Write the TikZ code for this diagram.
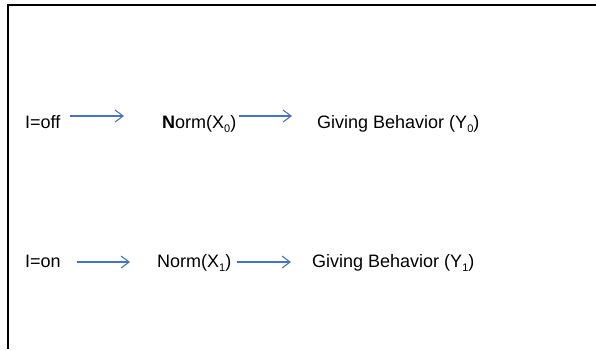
\documentclass[tikz,border=0pt]{standalone}
\usepackage{fontspec}
\setmainfont{Liberation Sans}
\usetikzlibrary{arrows.meta}
\definecolor{flowblue}{RGB}{68,114,196}
\newcommand{\sbs}[1]{\raisebox{-0.5ex}{\fontsize{11}{11}\selectfont #1}}
\begin{document}
\begin{tikzpicture}[x=1pt,y=-1pt,
  lbl/.style={anchor=base west,inner sep=0pt,font=\fontsize{18}{20}\selectfont},
  flow/.style={draw=flowblue,line width=1.1pt,-{Straight Barb[length=8pt,width=12pt,line width=1.1pt]}}]
\useasboundingbox (0,0) rectangle (596,349);
% frame edges
\draw[line width=1.5pt] (596,5) -- (8,5) -- (8,349);
% row for I = off
\node[lbl] (ioff) at (25,128) {I=off};
\node[lbl] (norm0) at (162,128) {\textbf{N}orm(X\sbs{0})};
\node[lbl] (give0) at (317,128) {Giving Behavior (Y\sbs{0})};
\coordinate (a1s) at (70,116);  \coordinate (a1e) at (124,116);
\coordinate (a2s) at (239,116); \coordinate (a2e) at (292,116);
\draw[flow] (a1s) -- (a1e);
\draw[flow] (a2s) -- (a2e);
% row for I = on
\node[lbl] (ion) at (25,267) {I=on};
\node[lbl] (norm1) at (157,267) {Norm(X\sbs{1})};
\node[lbl] (give1) at (312,267) {Giving Behavior (Y\sbs{1})};
\coordinate (b1s) at (77,262);  \coordinate (b1e) at (130,262);
\coordinate (b2s) at (237,262); \coordinate (b2e) at (291,262);
\draw[flow] (b1s) -- (b1e);
\draw[flow] (b2s) -- (b2e);
\end{tikzpicture}
\end{document}
